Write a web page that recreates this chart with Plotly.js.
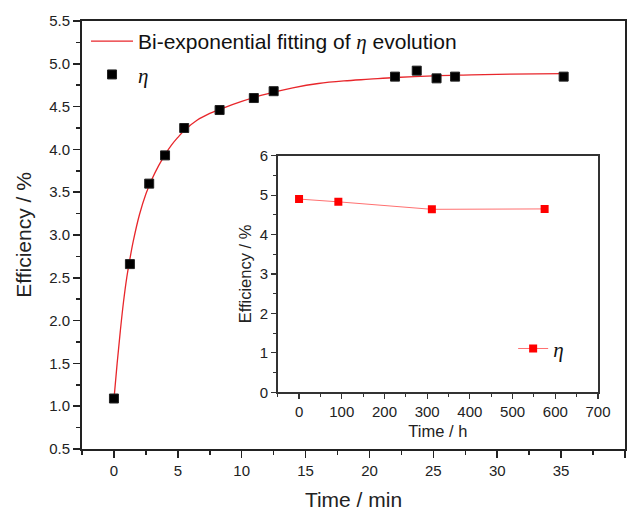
<!DOCTYPE html>
<html><head><meta charset="utf-8">
<script src="https://cdn.plot.ly/plotly-3.0.1.min.js"></script>
<style>body{margin:0;background:#fff}#c{width:632px;height:512px}</style>
</head><body><div id="c"></div>
<script>
// Main chart: efficiency vs time (min)
const timeMin = [0, 1.25, 2.76, 4.0, 5.5, 8.27, 10.95, 12.5, 22.0, 23.7, 25.25, 26.7, 35.2];
const effMin  = [1.09, 2.66, 3.60, 3.93, 4.25, 4.46, 4.60, 4.68, 4.85, 4.92, 4.83, 4.85, 4.85];
// Bi-exponential fitting curve
const fitTime = [0, 0.25, 0.5, 0.75, 1.0, 1.25, 1.5, 2.0, 2.5, 3.0, 3.5, 4.0, 4.5, 5.0, 5.5, 6.5, 7.5, 8.5, 10, 11.5, 12.5, 14, 16, 18, 20, 22, 25, 28, 31, 35.2];
const fitEff  = [1.08, 1.50, 1.88, 2.22, 2.50, 2.72, 2.92, 3.24, 3.48, 3.66, 3.81, 3.94, 4.05, 4.14, 4.22, 4.34, 4.42, 4.48, 4.56, 4.63, 4.67, 4.72, 4.77, 4.80, 4.82, 4.84, 4.86, 4.87, 4.88, 4.885];
// Inset: efficiency vs time (h)
const timeH = [0, 92, 311, 575];
const effH  = [4.90, 4.83, 4.64, 4.65];

const ETA = '<span style="font-family:\'Liberation Serif\', serif"><i>η</i></span>';
const fitName = 'Bi-exponential fitting of ' + ETA + ' evolution';
const ptName = ETA;
const insetName = ETA;

const FF = 'Liberation Sans, Arial, sans-serif';
const tickFont = {family: FF, size: 15, color: '#222'};

const traces = [
  {x: fitTime, y: fitEff, type: 'scatter', mode: 'lines', name: fitName,
   line: {color: '#e8262b', width: 1.3, shape: 'spline'}, legend: 'legend', legendgroup: 'a'},
  {x: timeMin, y: effMin, type: 'scatter', mode: 'markers', name: ptName,
   marker: {symbol: 'square', size: 9, color: '#000', line: {color: '#222', width: 1}}, legend: 'legend', legendgroup: 'b'},
  {x: timeH, y: effH, xaxis: 'x2', yaxis: 'y2', type: 'scatter', mode: 'lines+markers', name: insetName,
   line: {color: '#ff7070', width: 1}, marker: {symbol: 'square', size: 8, color: '#ff0000'}, legend: 'legend2'}
];

const layout = {
  width: 632, height: 512,
  margin: {l: 82, r: 7, t: 21, b: 63},
  paper_bgcolor: '#fff', plot_bgcolor: '#fff',
  font: {family: FF, color: '#222'},
  xaxis: {
    domain: [0, 1], range: [-2.5, 40], dtick: 5, tick0: 0,
    showgrid: false, zeroline: false, showline: true, linecolor: '#222', linewidth: 2, mirror: true,
    ticks: 'outside', ticklen: 7, tickwidth: 1.5, tickcolor: '#222',
    minor: {dtick: 2.5, ticklen: 4, tickwidth: 1.5, tickcolor: '#222', ticks: 'outside'},
    tickfont: tickFont,
    title: {text: 'Time / min', font: {size: 21, color: '#222'}, standoff: 14}
  },
  yaxis: {
    domain: [0, 1], range: [0.5, 5.5], dtick: 0.5, tick0: 0.5, tickformat: '.1f',
    showgrid: false, zeroline: false, showline: true, linecolor: '#222', linewidth: 2, mirror: true,
    ticks: 'outside', ticklen: 7, tickwidth: 1.5, tickcolor: '#222',
    minor: {dtick: 0.25, ticklen: 4, tickwidth: 1.5, tickcolor: '#222', ticks: 'outside'},
    tickfont: tickFont,
    title: {text: 'Efficiency / %', font: {size: 21, color: '#222'}, standoff: 12}
  },
  xaxis2: {
    domain: [0.3604, 0.9503], anchor: 'y2', range: [-50, 700], dtick: 100, tick0: 0,
    showgrid: false, zeroline: false, showline: true, linecolor: '#333', linewidth: 1.5, mirror: true,
    ticks: 'outside', ticklen: 5, tickwidth: 1.2, tickcolor: '#333',
    minor: {dtick: 50, ticklen: 3, tickwidth: 1, tickcolor: '#333', ticks: 'outside'},
    tickfont: tickFont,
    title: {text: 'Time / h', font: {size: 16.5, color: '#222'}, standoff: 6}
  },
  yaxis2: {
    domain: [0.1325, 0.6853], anchor: 'x2', range: [0, 6], dtick: 1, tick0: 0,
    showgrid: false, zeroline: false, showline: true, linecolor: '#333', linewidth: 1.5, mirror: true,
    ticks: 'outside', ticklen: 5, tickwidth: 1.2, tickcolor: '#333',
    minor: {dtick: 0.5, ticklen: 3, tickwidth: 1, tickcolor: '#333', ticks: 'outside'},
    tickfont: tickFont,
    title: {text: 'Efficiency / %', font: {size: 16.5, color: '#222'}, standoff: 4}
  },
  legend: {
    x: 0.0074, y: 1, xanchor: 'left', yanchor: 'top', bgcolor: 'rgba(0,0,0,0)',
    font: {size: 21, color: '#111'}, traceorder: 'grouped', tracegroupgap: 3, itemwidth: 42
  },
  legend2: {
    x: 0.794, y: 0.234, xanchor: 'left', yanchor: 'middle', bgcolor: 'rgba(0,0,0,0)',
    font: {size: 21, color: '#111'}, itemwidth: 30
  },
  showlegend: true
};

Plotly.newPlot('c', traces, layout, {staticPlot: true, displayModeBar: false});
</script>
</body></html>
